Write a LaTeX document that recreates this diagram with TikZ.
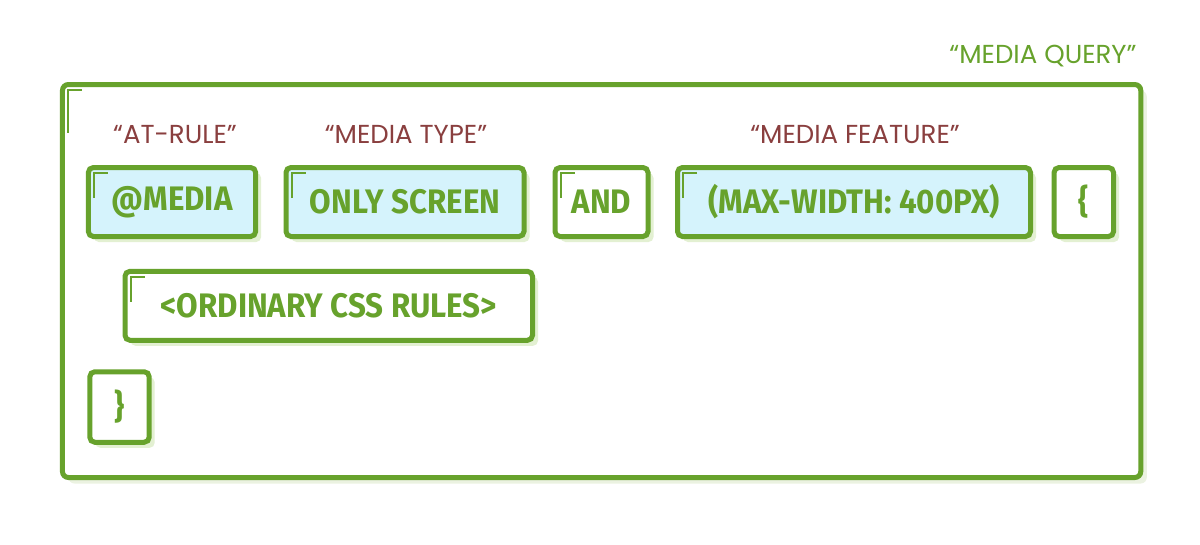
\documentclass[tikz,border=0pt]{standalone}
\usepackage{fontspec}
\usetikzlibrary{shadows,calc}
\newfontfamily\boxfont[FakeStretch=0.92]{Fira Sans}
\newfontfamily\labfont{Poppins}
\definecolor{grn}{HTML}{67A22C}
\definecolor{brn}{HTML}{8A3F3F}
\definecolor{cyanf}{HTML}{D5F3FC}
\definecolor{shd}{HTML}{E3F0D2}
\definecolor{shdo}{HTML}{EBF2E1}
\tikzset{
  cssbox/.style={draw=grn, line width=5pt, rounded corners=5pt, minimum height=69pt,
    inner sep=0pt, font=\boxfont\bfseries\fontsize{34}{34}\selectfont, text=grn,
    drop shadow={shadow xshift=5.5pt, shadow yshift=-5.5pt, fill=shd, opacity=1}},
  cyanbox/.style={cssbox, fill=cyanf},
  whitebox/.style={cssbox, fill=white},
  outerbox/.style={draw=grn, line width=5pt, rounded corners=6pt, fill=white,
    drop shadow={shadow xshift=6pt, shadow yshift=-6pt, fill=shdo, opacity=1}},
  cmark/.style={draw=grn, line width=2pt, line cap=butt},
  lab/.style={font=\labfont\fontsize{26}{26}\selectfont, text=brn},
}
\begin{document}
\begin{tikzpicture}[x=1pt,y=-1pt]
\useasboundingbox (0,0) rectangle (1200,544);
\node[outerbox, minimum width=1078.3pt, minimum height=393pt] (outer) at (601.6,281) {};
\node[lab, text=grn, anchor=base] (mq) at (1043,63) {“MEDIA QUERY”};
\node[lab, anchor=base] (l1) at (175,143) {“AT-RULE”};
\node[lab, anchor=base] (l2) at (406,143) {“MEDIA TYPE”};
\node[lab, anchor=base] (l3) at (855,143) {“MEDIA FEATURE”};
\node[cyanbox, minimum width=167.3pt] (atr) at (172,202) {@MEDIA};
\node[cyanbox, minimum width=238pt] (type) at (405,202) {ONLY SCREEN};
\node[whitebox, minimum width=93pt] (andk) at (601.5,202) {AND};
\node[cyanbox, minimum width=353pt] (feat) at (854,202) {(MAX-WIDTH: 400PX)};
\node[whitebox, minimum width=59.5pt] (open) at (1083.8,202) {\{};
\node[whitebox, minimum width=407.5pt] (rules) at (328.75,305.8) {<ORDINARY CSS RULES>};
\node[whitebox, minimum width=59.4pt, minimum height=70.5pt] (close) at (119.5,407) {\}};
\draw[cmark] ($(outer.north west)+(22,8)$) -- ($(outer.north west)+(7.7,8)$) -- ($(outer.north west)+(7.7,51)$);
\foreach \n in {atr,type,andk,feat,rules}{
  \draw[cmark] ($(\n.north west)+(22,8.3)$) -- ($(\n.north west)+(8,8.3)$) -- ($(\n.north west)+(8,33)$);
}
\end{tikzpicture}
\end{document}
